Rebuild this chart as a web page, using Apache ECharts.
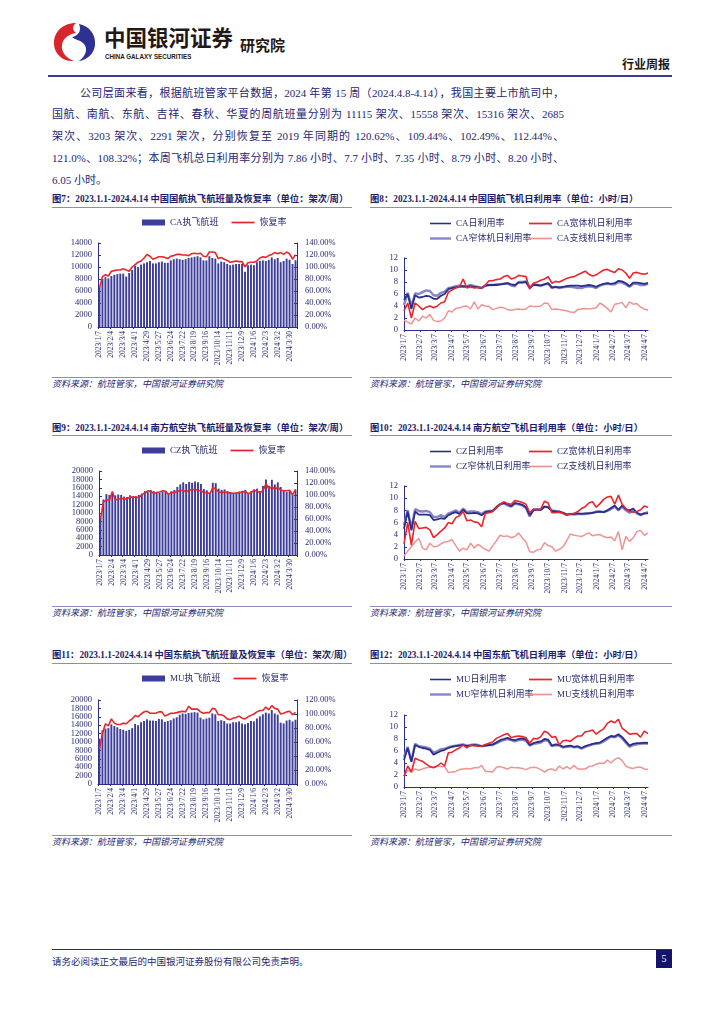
<!DOCTYPE html>
<html><head><meta charset="utf-8">
<script src="https://cdn.jsdelivr.net/npm/echarts@6.0.0/dist/echarts.min.js"></script>
<style>
html,body{margin:0;padding:0;background:#fff;}
#page{position:relative;width:724px;height:1024px;overflow:hidden;font-family:"Liberation Serif","Noto Sans CJK SC",serif;}
.abs{position:absolute;white-space:nowrap;}
#chart{position:absolute;left:0;top:0;width:724px;height:1024px;}
.para{position:absolute;font-size:11px;color:#262673;line-height:14px;white-space:nowrap;text-align:justify;text-align-last:justify;font-family:"Liberation Serif","Noto Sans CJK SC",serif;}
.title{position:absolute;white-space:nowrap;font-size:9.3px;line-height:12px;font-weight:bold;color:#1d1d6b;font-family:"Liberation Serif","Noto Sans CJK SC",serif;}
.rule{position:absolute;height:0;border-top:1px solid #8c8cc0;}
.src{position:absolute;white-space:nowrap;font-size:9px;line-height:12px;font-style:italic;color:#262673;font-family:"Noto Sans CJK SC",serif;}
</style>
</head><body>
<div id="page">
  <svg class="abs" style="left:52px;top:21px" width="46" height="42" viewBox="0 0 46 42">
    <path d="M24 2 C10 2 1 12 2 24 C3 34 12 41 22 40 C14 37 9 31 10 24 C11 17 17 13 24 12 C20 9 20 5 24 2 Z" fill="#d7262b"/>
    <path d="M27 3 C37 5 44 13 43 24 C42 33 35 39 27 40 C34 35 36 28 32 23 C29 19 23 19 20 16 C26 15 30 10 27 3 Z" fill="#2e3192"/>
  </svg>
  <div class="abs" style="left:104px;top:24px;font-size:21.5px;line-height:26px;font-weight:bold;color:#231815;font-family:'Noto Sans CJK SC',sans-serif;">中国银河证券</div>
  <div class="abs" style="left:105px;top:52px;font-size:8px;line-height:10px;font-weight:bold;color:#231815;font-family:'Liberation Sans',sans-serif;transform:scaleX(0.78);transform-origin:left top;">CHINA GALAXY SECURITIES</div>
  <div class="abs" style="left:240px;top:36px;font-size:15px;line-height:18px;font-weight:bold;color:#231815;font-family:'Noto Sans CJK SC',sans-serif;">研究院</div>
  <div class="abs" style="left:622px;top:57px;font-size:12px;line-height:14px;font-weight:bold;color:#231815;font-family:'Noto Sans CJK SC',sans-serif;">行业周报</div>
  <div class="abs" style="left:48px;top:75px;width:624px;height:0;border-top:2px solid #3d3d8f;"></div>

  <div class="para" style="left:80px;top:86px;width:484px;">公司层面来看，根据航班管家平台数据，2024 年第 15 周（2024.4.8-4.14），我国主要上市航司中，</div>
  <div class="para" style="left:52px;top:107px;width:512px;">国航、南航、东航、吉祥、春秋、华夏的周航班量分别为 11115 架次、15558 架次、15316 架次、2685</div>
  <div class="para" style="left:52px;top:129px;width:512px;">架次、3203 架次、2291 架次，分别恢复至 2019 年同期的 120.62%、109.44%、102.49%、112.44%、</div>
  <div class="para" style="left:52px;top:151px;width:512px;">121.0%、108.32%；本周飞机总日利用率分别为 7.86 小时、7.7 小时、7.35 小时、8.79 小时、8.20 小时、</div>
  <div class="para" style="left:52px;top:173px;text-align:left;text-align-last:left;">6.05 小时。</div>

  <div class="title" style="left:52px;top:193px;">图7：2023.1.1-2024.4.14 中国国航执飞航班量及恢复率（单位：架次/周）</div>
  <div class="title" style="left:370px;top:193px;">图8：2023.1.1-2024.4.14 中国国航飞机日利用率（单位：小时/日）</div>
  <div class="rule" style="left:52px;top:207px;width:300px;"></div>
  <div class="rule" style="left:370px;top:207px;width:302px;"></div>
  <div class="rule" style="left:52px;top:377px;width:300px;"></div>
  <div class="rule" style="left:370px;top:377px;width:302px;"></div>
  <div class="src" style="left:52px;top:378px;">资料来源：航班管家，中国银河证券研究院</div>
  <div class="src" style="left:370px;top:378px;">资料来源：航班管家，中国银河证券研究院</div>

  <div class="title" style="left:52px;top:422px;">图9：2023.1.1-2024.4.14 南方航空执飞航班量及恢复率（单位：架次/周）</div>
  <div class="title" style="left:370px;top:422px;">图10：2023.1.1-2024.4.14 南方航空飞机日利用率（单位：小时/日）</div>
  <div class="rule" style="left:52px;top:435px;width:300px;"></div>
  <div class="rule" style="left:370px;top:435px;width:302px;"></div>
  <div class="rule" style="left:52px;top:606px;width:300px;"></div>
  <div class="rule" style="left:370px;top:606px;width:302px;"></div>
  <div class="src" style="left:52px;top:607px;">资料来源：航班管家，中国银河证券研究院</div>
  <div class="src" style="left:370px;top:607px;">资料来源：航班管家，中国银河证券研究院</div>

  <div class="title" style="left:52px;top:649px;">图11：2023.1.1-2024.4.14 中国东航执飞航班量及恢复率（单位：架次/周）</div>
  <div class="title" style="left:370px;top:649px;">图12：2023.1.1-2024.4.14 中国东航飞机日利用率（单位：小时/日）</div>
  <div class="rule" style="left:52px;top:663px;width:300px;"></div>
  <div class="rule" style="left:370px;top:663px;width:302px;"></div>
  <div class="rule" style="left:52px;top:835px;width:300px;"></div>
  <div class="rule" style="left:370px;top:835px;width:302px;"></div>
  <div class="src" style="left:52px;top:836px;">资料来源：航班管家，中国银河证券研究院</div>
  <div class="src" style="left:370px;top:836px;">资料来源：航班管家，中国银河证券研究院</div>

  <div class="abs" style="left:52px;top:949px;width:620px;height:0;border-top:1.5px solid #2a2a7a;"></div>
  <div class="abs" style="left:52px;top:955px;font-size:9.5px;line-height:13px;color:#262673;font-family:'Noto Sans CJK SC',serif;">请务必阅读正文最后的中国银河证券股份有限公司免责声明。</div>
  <div class="abs" style="left:656px;top:950px;width:16px;height:18px;background:#14146b;color:#fff;font-size:10px;line-height:18px;text-align:center;font-family:'Liberation Serif',serif;">5</div>

  <div id="chart"></div>
</div>
<script>
// ---- weekly categories (2023/1/7 ... 2024/4/13) ----
const weekDates = [];
for (let k = 0; k < 67; k++) {
  const d = new Date(Date.UTC(2023, 0, 7 + 7 * k));
  weekDates.push(d.getUTCFullYear() + '/' + (d.getUTCMonth() + 1) + '/' + d.getUTCDate());
}
const weekDay = weekDates.map((_, k) => 7 * k); // day offset from 2023/1/7
const monthTicks = [];
for (let y = 2023; y <= 2024; y++) for (let m = 0; m < 12; m++) {
  if (y === 2024 && m > 3) break;
  monthTicks.push((Date.UTC(y, m, 7) - Date.UTC(2023, 0, 7)) / 86400000);
}

// ---- CA ----
const caFlights = [6600,8000,8300,8100,8500,8700,8800,8900,8900,8400,
  9000,9500,10200,10000,10400,10600,10800,11000,10600,10600,
  10800,10900,10700,10700,11100,11300,11400,11300,11200,11300,
  11500,11600,11700,11800,11600,11100,11100,11800,11500,11400,
  10600,10900,10800,10500,10300,10400,10500,10500,10500,9200,
  10300,10400,10300,10800,11000,11100,11000,11200,11600,11300,
  11500,10800,11000,11400,11200,10500,11115];
const caRate = [65,84,87,85,93,94,95,95,97,95,
  93,100,104,108,110,115,121,118,113,115,
  117,117,116,114,118,119,121,121,120,120,
  119,122,123,122,123,118,117,125,125,124,
  114,116,113,111,108,109,110,109,109,100,
  107,108,108,110,115,117,116,119,121,124,
  122,124,121,125,122,113,120.62];
const caTotal = [5.0,6.0,3.5,5.8,5.4,5.5,5.7,5.6,5.2,5.2,
  5.7,6.0,6.8,7.0,7.1,7.2,7.3,7.2,7.3,7.2,
  7.1,7.0,7.4,7.5,7.5,7.5,7.6,7.7,7.8,7.6,
  7.5,7.9,7.9,8.0,7.0,7.5,7.5,7.4,7.6,7.8,
  7.1,7.2,7.1,7.2,7.3,7.4,7.4,7.4,7.3,7.4,
  7.5,7.4,7.2,7.5,7.7,7.8,7.7,7.8,8.2,8.1,
  7.8,7.3,7.9,7.9,7.8,7.7,7.86];
const caWide = [3.2,4.5,2.0,4.5,4.0,3.4,3.8,4.0,3.7,4.0,
  4.5,4.7,6.3,6.7,7.0,7.2,8.5,7.0,7.2,7.0,
  7.1,7.0,7.5,8.2,8.2,8.4,8.5,8.9,9.1,8.5,
  8.7,9.1,9.0,8.9,6.8,7.8,8.0,8.3,8.5,8.9,
  7.8,8.1,8.0,8.3,8.6,8.8,8.9,9.2,9.5,9.8,
  9.3,9.0,9.2,9.6,10.0,10.1,9.8,9.6,10.2,10.0,
  9.5,8.6,9.5,9.6,9.4,9.3,9.5];
const caNarrow = [4.2,6.2,4.0,6.1,6.0,6.3,6.6,6.5,5.8,5.7,
  6.2,6.4,7.0,7.1,7.3,7.4,7.2,7.3,7.5,7.3,
  7.2,7.0,7.4,7.5,7.5,7.6,7.6,7.7,7.8,7.4,
  7.3,8.0,8.0,8.1,7.1,7.6,7.5,7.4,7.6,7.7,
  7.0,7.2,7.0,7.1,7.2,7.2,7.1,7.0,7.0,7.2,
  7.3,7.2,7.0,7.4,7.6,7.7,7.6,7.6,8.0,7.9,
  7.6,7.2,7.7,7.7,7.5,7.5,7.7];
const caRegional = [1.6,1.3,1.0,2.0,1.5,2.3,2.0,2.6,1.6,1.4,
  1.5,2.0,3.2,3.0,3.6,3.7,3.9,4.0,3.5,4.7,
  3.5,4.2,4.0,3.9,3.4,3.6,3.8,3.7,3.4,3.3,
  3.4,3.5,3.4,3.5,4.0,3.9,3.9,4.0,4.5,4.4,
  3.4,3.5,3.4,3.3,3.2,3.0,2.9,3.4,3.5,3.6,
  3.5,3.6,3.7,4.5,4.1,3.6,3.0,4.3,4.4,4.6,
  3.7,4.7,4.3,4.4,3.8,3.5,3.3];

// ---- CZ ----
const czFlights = [8800,13200,14500,14300,14800,14200,14400,14300,13900,13800,
  14200,14000,13800,14300,14600,15200,15000,15500,15200,15000,
  14800,15000,15300,14500,15200,15500,16200,16800,17300,16900,
  17400,17200,17500,17300,16900,15700,15400,14800,17200,17100,
  15800,15500,15600,15200,15000,14800,14900,15100,15300,15500,
  14800,15200,15600,15800,15200,16400,18000,16500,17900,16800,
  17300,16200,15500,15000,15200,14300,15558];
const czRate = [60,88,92,91,106,92,93,94,94,93,
  97,96,97,95,101,103,107,106,103,104,
  105,107,106,101,104,104,106,107,108,105,
  108,109,109,108,107,104,104,102,112,110,
  105,104,105,104,103,103,103,104,105,106,
  102,104,108,106,104,107,119,110,114,109,
  113,108,107,107,108,100,109.44];
const czTotal = [5.0,7.8,4.7,7.8,7.3,7.3,7.3,7.2,6.4,6.5,
  6.7,6.6,7.2,7.5,7.7,7.4,8.1,7.5,7.5,7.6,
  7.5,7.2,7.7,7.8,7.9,8.5,9.0,9.2,9.0,8.7,
  9.2,9.1,8.9,8.5,7.2,8.0,8.1,8.1,8.6,8.5,
  7.9,7.8,7.8,7.6,7.3,7.4,7.4,7.5,7.4,7.5,
  7.5,7.6,7.7,7.8,7.7,8.0,8.4,8.8,8.1,8.8,
  8.2,8.0,8.3,7.6,7.3,7.5,7.5];
const czWide = [2.5,6.0,2.3,6.2,5.0,5.1,5.2,4.8,3.5,4.0,
  4.6,5.1,6.0,5.8,6.8,7.1,7.8,6.3,6.4,6.1,
  6.0,5.3,7.5,7.6,7.8,8.4,9.0,9.4,9.1,9.0,
  9.6,9.5,9.3,9.0,7.6,8.2,8.1,8.2,9.5,9.2,
  7.6,7.6,7.7,7.5,7.2,7.4,7.5,7.8,8.3,8.6,
  9.2,9.4,8.5,9.1,9.8,10.2,10.3,9.0,10.5,9.0,
  8.3,7.8,7.7,7.8,8.1,8.7,8.5];
const czNarrow = [5.5,8.0,5.0,8.2,7.9,7.8,7.9,7.7,6.9,6.9,
  7.2,6.9,7.5,7.7,8.0,7.6,8.3,7.7,7.8,7.8,
  7.7,7.4,7.8,7.9,7.9,8.5,9.0,9.2,8.8,8.6,
  9.1,9.0,8.8,8.4,7.0,8.1,8.2,8.1,8.6,8.5,
  8.0,7.9,7.8,7.6,7.3,7.4,7.3,7.4,7.4,7.4,
  7.5,7.6,7.8,7.8,7.7,7.9,8.2,8.6,8.0,8.6,
  8.0,7.6,8.0,7.5,7.2,7.5,7.7];
const czRegional = [0.5,1.3,2.0,2.8,3.4,1.8,1.5,2.6,2.0,2.1,
  2.5,2.8,2.9,3.2,2.2,1.3,1.8,1.5,2.6,1.8,
  2.4,2.0,1.6,1.3,2.2,3.0,3.9,3.7,3.8,3.5,
  3.7,4.3,3.5,2.8,1.2,1.1,1.5,1.6,2.7,2.2,
  2.0,1.3,1.6,2.0,3.0,4.1,3.9,3.8,3.7,4.0,
  4.3,3.8,4.0,4.0,3.7,3.5,3.6,3.0,4.5,1.5,
  3.7,2.9,3.5,4.5,4.7,3.9,4.3];

// ---- MU ----
const muFlights = [10800,12800,13200,13300,14200,13800,13500,13100,12900,12600,
  12900,13300,14300,14000,14700,15000,15400,15100,15100,15000,
  15500,15400,14800,15000,15200,15600,15900,16500,16800,16700,
  16900,17000,17100,17000,15800,15400,15600,15800,16800,16600,
  15000,15200,15000,14400,14400,14700,14700,14900,14400,14200,
  14500,15000,14900,15600,16100,16600,17000,16800,17600,16800,
  16500,14600,14400,15100,15300,14900,15316];
const muRate = [50,72,86,83,93,87,85,85,87,86,
  90,93,98,96,100,103,104,101,101,101,
  103,103,97,99,101,101,102,103,104,103,
  111,107,107,107,103,101,102,102,108,107,
  99,99,97,93,92,94,95,97,94,93,
  96,98,100,103,105,105,110,106,112,108,
  107,100,101,103,104,99,102.49];
const muTotal = [4.5,6.5,4.2,7.0,6.7,6.5,6.4,6.2,5.4,5.7,
  6.0,6.2,6.5,6.7,6.8,6.9,7.0,6.8,6.9,7.0,
  6.9,6.8,6.9,7.0,7.1,7.4,7.8,8.0,8.2,7.9,
  7.8,8.0,8.1,7.9,7.0,7.3,7.5,7.6,8.0,7.9,
  6.9,7.1,7.0,6.7,6.8,6.9,6.7,6.8,6.5,6.8,
  7.0,7.2,7.3,7.4,7.8,8.2,8.5,8.4,8.8,8.3,
  7.6,6.9,7.2,7.3,7.3,7.4,7.35];
const muWide = [1.8,3.5,2.5,4.8,4.5,4.3,3.8,3.4,3.2,3.5,
  4.0,3.5,5.7,5.8,6.2,6.5,7.0,6.5,7.0,6.9,
  6.8,6.8,7.1,7.3,7.5,8.1,8.4,8.7,8.9,8.2,
  8.4,8.5,8.4,8.2,7.3,8.1,8.0,8.4,9.3,9.0,
  8.3,8.4,7.0,7.7,7.8,7.6,8.1,8.5,8.5,9.2,
  9.3,9.5,8.8,9.3,9.7,10.6,11.0,10.7,11.3,9.8,
  9.3,8.8,8.9,8.9,8.3,9.3,8.9];
const muNarrow = [5.0,6.7,4.3,7.2,6.8,6.7,6.6,6.4,5.7,6.0,
  6.3,6.4,6.6,6.8,6.9,7.0,7.1,6.9,7.0,7.1,
  7.0,6.8,6.9,7.0,7.0,7.3,7.6,7.8,8.0,7.8,
  7.6,7.8,7.9,7.7,6.9,7.2,7.3,7.4,7.8,7.7,
  6.8,7.0,6.9,6.6,6.7,6.8,6.6,6.7,6.4,6.7,
  6.9,7.1,7.2,7.3,7.6,8.0,8.4,8.3,8.6,8.1,
  7.4,6.7,7.0,7.1,7.2,7.3,7.2];
const muRegional = [1.8,2.8,2.5,3.0,2.8,3.0,3.2,3.3,3.3,3.5,
  3.4,3.4,2.4,2.5,2.6,2.9,3.0,3.1,3.0,3.2,
  3.2,3.6,2.6,2.6,2.5,3.3,3.4,3.2,3.0,3.3,
  3.2,3.2,3.1,2.9,3.2,3.3,3.2,2.9,2.5,2.9,
  3.0,2.7,3.5,3.0,3.4,3.0,3.6,3.0,3.0,3.0,
  3.4,3.5,3.8,4.0,3.9,4.5,4.0,4.6,4.9,4.4,
  3.5,3.2,3.1,3.3,3.3,3.0,2.9];

// ---- styling ----
const NAVY = '#2b2d8a', BAR = '#3d3d9b', RED = '#e8262b', LAV = '#8585c6', PINK = '#f19393', TXT = '#2a2a72', AX = '#2b2d8a';
const FONT = '"Liberation Serif","Noto Sans CJK SC",serif';
const LINE_ICON = 'path://M0 0H40V3H0Z';
const THICK_ICON = 'path://M0 0H40V4.5H0Z';
const grids = [], xAxes = [], yAxes = [], series = [], legends = [];

function axisBase() {
  return {
    axisLine: { show: true, lineStyle: { color: AX, width: 1 } },
    axisTick: { show: true, inside: true, length: 3, lineStyle: { color: AX } },
    splitLine: { show: false }
  };
}

function barChart(g, flights, rate, name, leftMax, rightMax, lgLeft, lgTop) {
  const gi = grids.length;
  grids.push({ left: g[0], top: g[1], width: g[2], height: g[3] });
  const xi = xAxes.length;
  xAxes.push(Object.assign(axisBase(), {
    type: 'category', gridIndex: gi, data: weekDates, boundaryGap: true,
    axisTick: { show: true, interval: 3, length: 2, lineStyle: { color: AX } },
    axisLabel: { interval: 3, rotate: 90, fontSize: 7.5, color: TXT, fontFamily: FONT, margin: 4 }
  }));
  const yl = yAxes.length;
  yAxes.push(Object.assign(axisBase(), {
    type: 'value', gridIndex: gi, position: 'left', min: 0, max: leftMax, interval: 2000,
    axisLabel: { fontSize: 8.5, color: TXT, fontFamily: FONT, margin: 6, formatter: v => String(v) }
  }));
  const yr = yAxes.length;
  yAxes.push(Object.assign(axisBase(), {
    type: 'value', gridIndex: gi, position: 'right', min: 0, max: rightMax, interval: 20,
    axisLabel: { fontSize: 8.5, color: TXT, fontFamily: FONT, margin: 8, formatter: v => v.toFixed(2) + '%' }
  }));
  series.push({ name: name, type: 'bar', xAxisIndex: xi, yAxisIndex: yl, data: flights,
    itemStyle: { color: BAR }, barCategoryGap: '35%' });
  series.push({ name: '恢复率', type: 'line', xAxisIndex: xi, yAxisIndex: yr, data: rate,
    symbol: 'none', lineStyle: { color: RED, width: 1.6 }, itemStyle: { color: RED } });
  legends.push({ data: [{ name: name, icon: 'rect' }, { name: '恢复率', icon: LINE_ICON }], left: lgLeft, top: lgTop,
    itemWidth: 23, itemHeight: 6, itemGap: 13,
    textStyle: { fontSize: 9, color: TXT, fontFamily: FONT } });
}

function dayLabel(v) {
  const d = new Date(Date.UTC(2023, 0, 7 + Math.round(v)));
  return d.getUTCFullYear() + '/' + (d.getUTCMonth() + 1) + '/' + d.getUTCDate();
}

function utilChart(g, prefix, total, wide, narrow, regional, lgTop) {
  const gi = grids.length;
  grids.push({ left: g[0], top: g[1], width: g[2], height: g[3] });
  const xi = xAxes.length;
  xAxes.push(Object.assign(axisBase(), {
    type: 'value', gridIndex: gi, min: 0, max: 462,
    axisTick: { show: true, length: 2, customValues: monthTicks, lineStyle: { color: AX } },
    axisLabel: { customValues: monthTicks, formatter: dayLabel, rotate: 90, fontSize: 7.5, color: TXT, fontFamily: FONT, margin: 4 }
  }));
  const yi = yAxes.length;
  yAxes.push(Object.assign(axisBase(), {
    type: 'value', gridIndex: gi, min: 0, max: 12, interval: 2,
    axisLabel: { fontSize: 8.5, color: TXT, fontFamily: FONT, margin: 6 }
  }));
  const pts = arr => arr.map((v, k) => [weekDay[k], v]);
  const n1 = prefix + '日利用率', n2 = prefix + '宽体机日利用率', n3 = prefix + '窄体机日利用率', n4 = prefix + '支线机日利用率';
  const mk = (name, arr, color, w) => ({ name: name, type: 'line', xAxisIndex: xi, yAxisIndex: yi, data: pts(arr),
    symbol: 'none', lineStyle: { color: color, width: w }, itemStyle: { color: color } });
  series.push(mk(n4, regional, PINK, 1.5));
  series.push(mk(n3, narrow, LAV, 2.4));
  series.push(mk(n1, total, NAVY, 1.8));
  series.push(mk(n2, wide, RED, 1.6));
  const ts = { fontSize: 9, color: TXT, fontFamily: FONT };
  legends.push({ data: [{ name: n1, icon: LINE_ICON }, { name: n3, icon: THICK_ICON }], left: 425, top: lgTop, orient: 'vertical', itemWidth: 21, itemHeight: 8, itemGap: 6, textStyle: ts });
  legends.push({ data: [{ name: n2, icon: LINE_ICON }, { name: n4, icon: LINE_ICON }], left: 524, top: lgTop, orient: 'vertical', itemWidth: 23, itemHeight: 8, itemGap: 6, textStyle: ts });
}

barChart([98, 243, 199, 84], caFlights, caRate, 'CA执飞航班', 14000, 140, 137, 213);
utilChart([404, 258, 244, 72], 'CA', caTotal, caWide, caNarrow, caRegional, 214);
barChart([99, 471, 198, 84], czFlights, czRate, 'CZ执飞航班', 20000, 140, 137, 441);
utilChart([404, 486, 244, 73], 'CZ', czTotal, czWide, czNarrow, czRegional, 442);
barChart([98, 700, 199, 84], muFlights, muRate, 'MU执飞航班', 20000, 120, 137, 669);
utilChart([404, 715, 244, 72], 'MU', muTotal, muWide, muNarrow, muRegional, 670);

const chart = echarts.init(document.getElementById('chart'), null, { renderer: 'canvas' });
chart.setOption({
  animation: false,
  backgroundColor: 'transparent',
  grid: grids, xAxis: xAxes, yAxis: yAxes, series: series, legend: legends
});
</script>
</body></html>
